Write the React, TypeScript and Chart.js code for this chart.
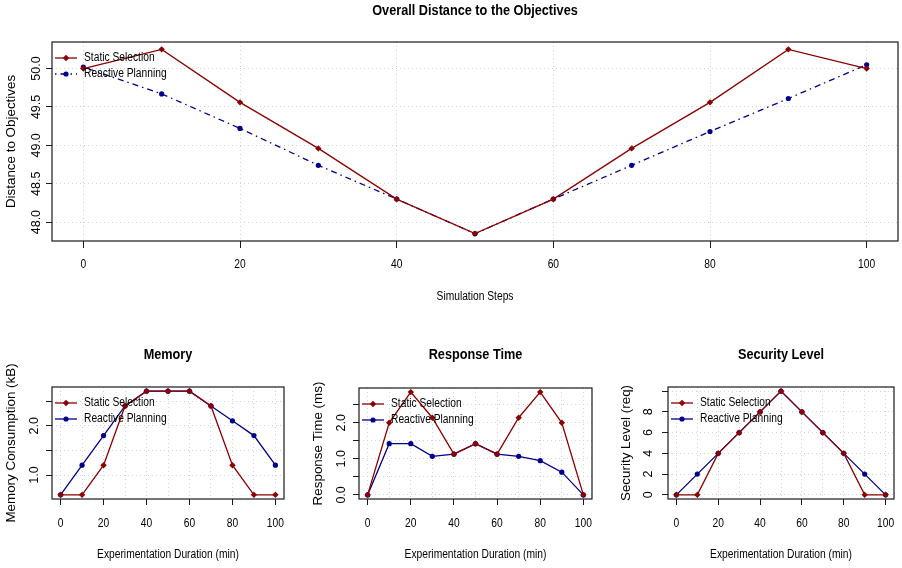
import React, { useEffect, useRef } from "react";
import { Chart, registerables } from "chart.js";

Chart.register(...registerables);

// ---------- data ----------
const simSteps = [0, 10, 20, 30, 40, 50, 60, 70, 80, 90, 100];
const distanceStatic = [50.0, 50.25, 49.56, 48.96, 48.3, 47.85, 48.3, 48.96, 49.56, 50.25, 50.0];
const distanceReactive = [50.02, 49.67, 49.22, 48.74, 48.3, 47.85, 48.3, 48.74, 49.18, 49.61, 50.05];

const minutes = [0, 10, 20, 30, 40, 50, 60, 70, 80, 90, 100];
const memoryStatic = [0.6, 0.6, 1.2, 2.4, 2.7, 2.7, 2.7, 2.4, 1.2, 0.6, 0.6];
const memoryReactive = [0.6, 1.2, 1.8, 2.4, 2.7, 2.7, 2.7, 2.4, 2.1, 1.8, 1.2];
const responseStatic = [0, 2.0, 2.85, 2.14, 1.13, 1.42, 1.13, 2.14, 2.85, 2.0, 0];
const responseReactive = [0, 1.42, 1.42, 1.07, 1.13, 1.42, 1.13, 1.07, 0.95, 0.63, 0];
const securityStatic = [0, 0, 4, 6, 8, 10, 8, 6, 4, 0, 0];
const securityReactive = [0, 2, 4, 6, 8, 10, 8, 6, 4, 2, 0];

const xTicksTop = [0, 20, 40, 60, 80, 100];
const xGridTop = [0, 20, 40, 60, 80, 100];
const xTicksBottom = [0, 20, 40, 60, 80, 100];
const xGridBottom = [0, 10, 20, 30, 40, 50, 60, 70, 80, 90, 100];
const yTicksDistance = [48.0, 48.5, 49.0, 49.5, 50.0];
const yLabelsDistance = [48.0, 48.5, 49.0, 49.5, 50.0];
const yTicksMemory = [1.0, 1.5, 2.0, 2.5];
const yLabelsMemory = [1.0, 2.0];
const yTicksResponse = [0, 0.5, 1.0, 1.5, 2.0, 2.5];
const yLabelsResponse = [0, 1.0, 2.0];
const yTicksSecurity = [0, 2, 4, 6, 8, 10];
const yLabelsSecurity = [0, 2, 4, 6, 8];

const seriesNames = ["Static Selection", "Reactive Planning"];

// ---------- style ----------
const RED = "#8B0000";
const BLUE = "#00008B";
const GRID = "#d3d3d3";
const FONT_R = '"Liberation Sans", Arial, sans-serif';
const NARROW = 0.82;
const DOTDASH = [1.5, 4, 6, 4];

type Panel = {
  left: number; top: number; width: number; height: number;
  pad: { left: number; top: number; right: number; bottom: number };
  title: string; titleY: number;
  xTitle: string; xTitleY: number; xTickY: number;
  yTitle: string; yTitleOff: number; yTickOff: number;
  xTickLen: number;
  x: number[]; s1: number[]; s2: number[];
  xGrid: number[]; xLabels: number[];
  yTicks: number[]; yLabels: number[]; yDigits: number;
  dashed: boolean;
};

function ext(arrs: number[][]): [number, number] {
  const all = arrs.flat();
  const mn = Math.min(...all), mx = Math.max(...all);
  const r = mx - mn;
  return [mn - 0.04 * r, mx + 0.04 * r];
}

const panels: Panel[] = [
  {
    left: 0, top: 0, width: 902, height: 310,
    pad: { left: 52, top: 42, right: 4, bottom: 69 },
    title: "Overall Distance to the Objectives", titleY: 11,
    xTitle: "Simulation Steps", xTitleY: 297, xTickY: 265,
    yTitle: "Distance to Objectives", yTitleOff: 41, yTickOff: 15,
    xTickLen: 7,
    x: simSteps, s1: distanceStatic, s2: distanceReactive,
    xGrid: xGridTop, xLabels: xTicksTop,
    yTicks: yTicksDistance, yLabels: yLabelsDistance, yDigits: 1,
    dashed: true,
  },
  {
    left: 0, top: 330, width: 300, height: 238,
    pad: { left: 52, top: 57, right: 16, bottom: 69 },
    title: "Memory", titleY: 25,
    xTitle: "Experimentation Duration (min)", xTitleY: 225, xTickY: 194,
    yTitle: "Memory Consumption (kB)", yTitleOff: 41, yTickOff: 17,
    xTickLen: 6,
    x: minutes, s1: memoryStatic, s2: memoryReactive,
    xGrid: xGridBottom, xLabels: xTicksBottom,
    yTicks: yTicksMemory, yLabels: yLabelsMemory, yDigits: 1,
    dashed: false,
  },
  {
    left: 300, top: 330, width: 300, height: 238,
    pad: { left: 59, top: 58, right: 8, bottom: 69 },
    title: "Response Time", titleY: 25,
    xTitle: "Experimentation Duration (min)", xTitleY: 225, xTickY: 194,
    yTitle: "Response Time (ms)", yTitleOff: 41, yTickOff: 17,
    xTickLen: 6,
    x: minutes, s1: responseStatic, s2: responseReactive,
    xGrid: xGridBottom, xLabels: xTicksBottom,
    yTicks: yTicksResponse, yLabels: yLabelsResponse, yDigits: 1,
    dashed: false,
  },
  {
    left: 600, top: 330, width: 302, height: 238,
    pad: { left: 68, top: 57, right: 8, bottom: 69 },
    title: "Security Level", titleY: 25,
    xTitle: "Experimentation Duration (min)", xTitleY: 225, xTickY: 194,
    yTitle: "Security Level (req)", yTitleOff: 42, yTickOff: 19,
    xTickLen: 6,
    x: minutes, s1: securityStatic, s2: securityReactive,
    xGrid: xGridBottom, xLabels: xTicksBottom,
    yTicks: yTicksSecurity, yLabels: yLabelsSecurity, yDigits: 0,
    dashed: false,
  },
];

function drawMarker(ctx: CanvasRenderingContext2D, kind: string, x: number, y: number, color: string) {
  ctx.fillStyle = color;
  ctx.beginPath();
  if (kind === "diamond") {
    const r = 3.2;
    ctx.moveTo(x, y - r); ctx.lineTo(x + r, y); ctx.lineTo(x, y + r); ctx.lineTo(x - r, y);
    ctx.closePath();
  } else {
    ctx.arc(x, y, 2.6, 0, Math.PI * 2);
  }
  ctx.fill();
}

function narrowText(ctx: CanvasRenderingContext2D, text: string, x: number, y: number, align: CanvasTextAlign) {
  ctx.save();
  ctx.translate(x, y);
  ctx.scale(NARROW, 1);
  ctx.textAlign = align;
  ctx.textBaseline = "middle";
  ctx.fillText(text, 0, 0);
  ctx.restore();
}

function makePlugin(p: Panel) {
  return {
    id: "rstyle",
    afterDraw(chart: any) {
      const ctx: CanvasRenderingContext2D = chart.ctx;
      const a = chart.chartArea;
      const xs = chart.scales.x;
      const ys = chart.scales.y;
      ctx.save();
      // box
      ctx.strokeStyle = "#1a1a1a";
      ctx.lineWidth = 1.2;
      ctx.setLineDash([]);
      ctx.strokeRect(a.left, a.top, a.right - a.left, a.bottom - a.top);

      const cx = (a.left + a.right) / 2;
      ctx.fillStyle = "#000";

      // title
      ctx.font = `bold 15.5px ${FONT_R}`;
      narrowText(ctx, p.title, cx, p.titleY, "center");

      // x title
      ctx.font = `12.5px ${FONT_R}`;
      narrowText(ctx, p.xTitle, cx, p.xTitleY, "center");

      // x tick labels
      ctx.font = `12.5px ${FONT_R}`;
      for (const v of p.xLabels) {
        narrowText(ctx, String(v), xs.getPixelForValue(v), p.xTickY, "center");
      }

      // y title (rotated)
      ctx.save();
      ctx.translate(a.left - p.yTitleOff, (a.top + a.bottom) / 2);
      ctx.rotate(-Math.PI / 2);
      ctx.textAlign = "center";
      ctx.textBaseline = "middle";
      ctx.font = `13.4px ${FONT_R}`;
      ctx.fillText(p.yTitle, 0, 0);
      ctx.restore();

      // y tick labels (rotated)
      ctx.font = `12.5px ${FONT_R}`;
      for (const v of p.yLabels) {
        const py = ys.getPixelForValue(v);
        ctx.save();
        ctx.translate(a.left - p.yTickOff, py);
        ctx.rotate(-Math.PI / 2);
        ctx.textAlign = "center";
        ctx.textBaseline = "middle";
        ctx.fillText(v.toFixed(p.yDigits), 0, 0);
        ctx.restore();
      }

      // legend
      const lx = a.left + 3;
      const rows = [
        { name: seriesNames[0], color: RED, marker: "diamond", dash: [] as number[] },
        { name: seriesNames[1], color: BLUE, marker: "circle", dash: p.dashed ? DOTDASH : [] },
      ];
      rows.forEach((r, i) => {
        const ly = a.top + 16 + i * 16;
        ctx.strokeStyle = r.color;
        ctx.lineWidth = 1.3;
        ctx.setLineDash(r.dash);
        ctx.beginPath();
        ctx.moveTo(lx, ly);
        ctx.lineTo(lx + 22, ly);
        ctx.stroke();
        ctx.setLineDash([]);
        drawMarker(ctx, r.marker, lx + 11, ly, r.color);
        ctx.fillStyle = "#000";
        ctx.font = `12.5px ${FONT_R}`;
        narrowText(ctx, r.name, lx + 29, ly, "left");
      });
      ctx.restore();
    },
  };
}

function PanelChart({ p }: { p: Panel }) {
  const ref = useRef<HTMLCanvasElement | null>(null);
  useEffect(() => {
    if (!ref.current) return;
    const [ymin, ymax] = ext([p.s1, p.s2]);
    const [xmin, xmax] = ext([p.x]);
    const chart = new Chart(ref.current, {
      type: "line",
      data: {
        datasets: [
          {
            label: seriesNames[0],
            data: p.x.map((v, i) => ({ x: v, y: p.s1[i] })),
            borderColor: RED,
            backgroundColor: RED,
            borderWidth: 1.3,
            pointStyle: "rectRot",
            pointRadius: 3.2,
            pointBorderWidth: 0,
            tension: 0,
          },
          {
            label: seriesNames[1],
            data: p.x.map((v, i) => ({ x: v, y: p.s2[i] })),
            borderColor: BLUE,
            backgroundColor: BLUE,
            borderWidth: 1.3,
            borderDash: p.dashed ? DOTDASH : [],
            pointStyle: "circle",
            pointRadius: 2.6,
            pointBorderWidth: 0,
            tension: 0,
          },
        ],
      },
      options: {
        animation: false,
        responsive: false,
        events: [],
        layout: { padding: p.pad },
        plugins: { legend: { display: false }, tooltip: { enabled: false }, title: { display: false } },
        scales: {
          x: {
            type: "linear",
            min: xmin,
            max: xmax,
            afterBuildTicks: (s: any) => { s.ticks = p.xGrid.map((v) => ({ value: v })); },
            afterFit: (s: any) => { s.height = 0; },
            border: { display: false, dash: [1, 3] },
            grid: {
              color: GRID,
              lineWidth: 1,
              drawTicks: true,
              tickLength: p.xTickLen,
              tickBorderDash: [],
              tickColor: (c: any) => (c.tick && p.xLabels.includes(c.tick.value) ? "#1a1a1a" : "rgba(0,0,0,0)"),
              tickWidth: 1,
            },
            ticks: { display: false },
          },
          y: {
            type: "linear",
            min: ymin,
            max: ymax,
            afterBuildTicks: (s: any) => { s.ticks = p.yTicks.map((v) => ({ value: v })); },
            afterFit: (s: any) => { s.width = 0; },
            border: { display: false, dash: [1, 3] },
            grid: {
              color: GRID,
              lineWidth: 1,
              drawTicks: true,
              tickLength: 6,
              tickBorderDash: [],
              tickColor: "#1a1a1a",
              tickWidth: 1,
            },
            ticks: { display: false },
          },
        },
      },
      plugins: [makePlugin(p)],
    } as any);
    return () => chart.destroy();
  }, [p]);
  return (
    <canvas
      ref={ref}
      width={p.width}
      height={p.height}
      style={{ position: "absolute", left: p.left, top: p.top, width: p.width, height: p.height, display: "block" }}
    />
  );
}

export default function App() {
  return (
    <div style={{ position: "fixed", left: 0, top: 0, width: 902, height: 568, background: "#fff", overflow: "hidden" }}>
      {panels.map((p, i) => (
        <PanelChart key={i} p={p} />
      ))}
    </div>
  );
}
